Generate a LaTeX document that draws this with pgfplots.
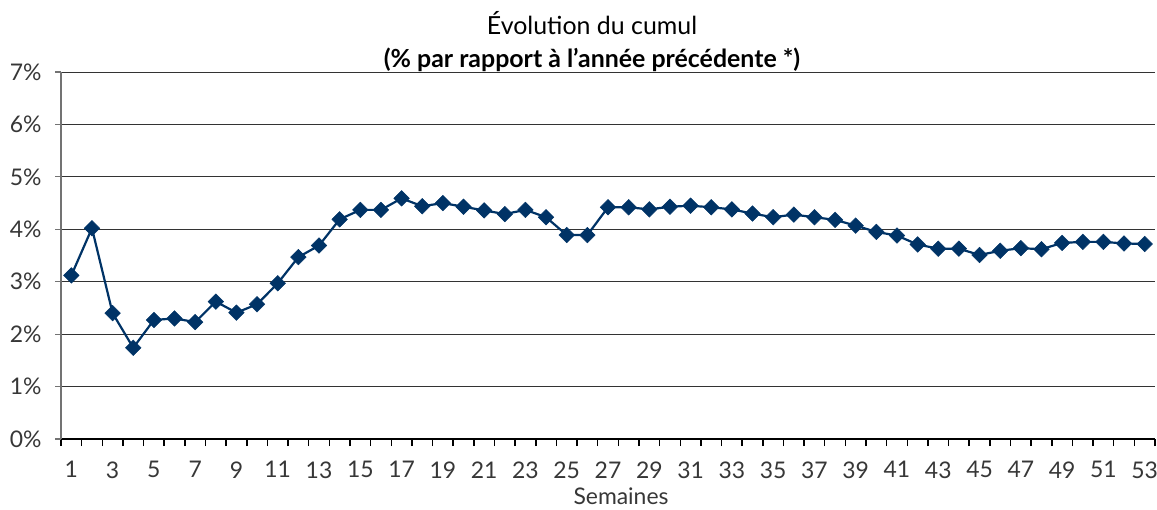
\documentclass[border=0pt]{standalone}
\usepackage{pgfplots}
\pgfplotsset{compat=1.18}
\usepackage{fontspec}
\setmainfont{Lato}
\definecolor{navy}{RGB}{0,51,102}
\definecolor{txt}{RGB}{55,55,55}
\pgfplotstableread{
w v
1 3.12
2 4.02
3 2.40
4 1.74
5 2.27
6 2.30
7 2.23
8 2.62
9 2.41
10 2.57
11 2.97
12 3.47
13 3.69
14 4.19
15 4.37
16 4.37
17 4.59
18 4.44
19 4.50
20 4.43
21 4.36
22 4.29
23 4.37
24 4.23
25 3.89
26 3.89
27 4.42
28 4.42
29 4.38
30 4.43
31 4.45
32 4.42
33 4.38
34 4.30
35 4.23
36 4.28
37 4.23
38 4.18
39 4.07
40 3.95
41 3.88
42 3.71
43 3.63
44 3.63
45 3.51
46 3.59
47 3.64
48 3.62
49 3.74
50 3.76
51 3.76
52 3.73
53 3.72
}\datatable
\begin{document}
\begin{tikzpicture}
\begin{axis}[name=ax, scale only axis, width=1094bp, height=367bp,
  xmin=0.5, xmax=53.5, ymin=0, ymax=7,
  axis x line*=bottom, axis y line*=left,
  x axis line style={-, black, line width=2bp},
  y axis line style={-, black!55, line width=1.5bp},
  xtick={1,3,...,53}, minor xtick={0.5,1.5,...,53.5},
  ytick={0,1,...,7},
  tick align=outside,
  major tick length=6bp, minor tick length=7bp,
  major x tick style={draw=none},
  minor x tick style={black, line width=1.5bp},
  major y tick style={black!55, line width=1.2bp},
  ymajorgrids, major grid style={black!80, line width=1bp},
  /pgf/number format/assume math mode=true,
  yticklabel={\pgfmathprintnumber{\tick}\%},
  ticklabel style={font=\fontsize{23}{26}\selectfont, text=txt},
  xticklabel style={yshift=-13bp},
  yticklabel style={xshift=-10bp},
  xlabel={Semaines},
  xlabel style={font=\fontsize{23}{26}\selectfont, text=txt, xshift=13bp, yshift=-3bp},
  title={Évolution du cumul\\\textbf{(\% par rapport à l’année précédente *)}},
  title style={align=center, font=\fontsize{25}{33}\selectfont, text=black, xshift=-16bp, yshift=-9bp},
  clip=false,
]
\addplot[color=navy, line width=2.2bp, mark=square*, mark size=5.5bp, mark options={rotate=45, fill=navy, draw=navy, line width=0.5bp}] table[x=w, y=v] {\datatable};
\end{axis}
\pgfresetboundingbox
\path ([xshift=-61bp,yshift=-70bp]ax.south west) rectangle ([xshift=2bp,yshift=72bp]ax.north east);
\end{tikzpicture}
\end{document}
